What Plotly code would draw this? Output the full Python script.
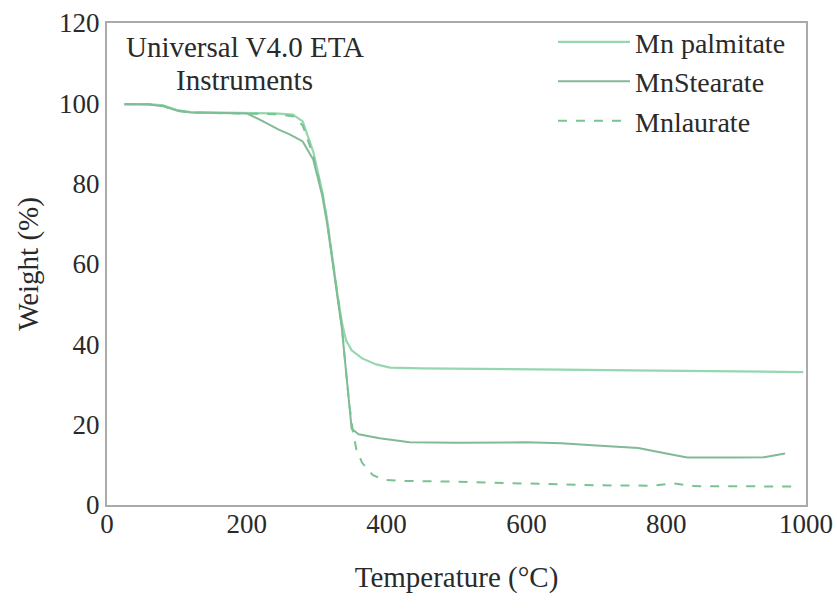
import plotly.graph_objects as go

# Mn palmitate
t_palm = [25, 60, 80, 100, 120, 160, 200, 240, 266, 280, 295, 308, 315, 322, 330, 336, 342, 350, 365, 385, 405, 450, 550, 650, 750, 850, 950, 996]
w_palm = [99.8, 99.8, 99.5, 98.3, 97.8, 97.7, 97.6, 97.5, 97.2, 95.5, 88, 78, 71, 62, 52, 45.5, 41, 38.5, 36.5, 35, 34.2, 34, 33.9, 33.7, 33.5, 33.3, 33.2, 33.1]

# MnStearate
t_stea = [25, 60, 80, 100, 120, 160, 200, 220, 245, 262, 280, 295, 308, 315, 322, 330, 336, 341, 346, 350, 360, 390, 433, 500, 600, 650, 700, 760, 800, 830, 900, 940, 970]
w_stea = [99.8, 99.7, 99.3, 98.2, 97.7, 97.6, 97.5, 95.8, 93.5, 92.2, 90.5, 86, 77, 70, 61, 51, 44, 35, 25, 19, 17.6, 16.6, 15.6, 15.5, 15.6, 15.4, 14.8, 14.2, 12.8, 11.8, 11.8, 11.9, 12.8]

# Mnlaurate
t_laur = [25, 60, 80, 100, 120, 160, 200, 240, 266, 280, 295, 308, 315, 322, 330, 336, 341, 346, 352, 357, 365, 380, 395, 420, 500, 600, 700, 780, 810, 840, 900, 990]
w_laur = [99.8, 99.8, 99.4, 98.1, 97.7, 97.6, 97.5, 97.3, 96.8, 94.5, 87, 77.5, 70.5, 61.5, 51.5, 44.5, 35, 26, 18, 13.7, 10.5, 7.5, 6.3, 6.0, 5.8, 5.4, 4.9, 4.8, 5.4, 4.7, 4.6, 4.6]

x_ticks = [0, 200, 400, 600, 800, 1000]
y_ticks = [0, 20, 40, 60, 80, 100, 120]

FONT = "Liberation Serif"
TXT = "#2a2a2a"

fig = go.Figure()
fig.add_trace(go.Scatter(x=t_palm, y=w_palm, mode="lines", name="Mn palmitate",
                         line=dict(color="rgb(150,215,175)", width=2.2)))
fig.add_trace(go.Scatter(x=t_stea, y=w_stea, mode="lines", name="MnStearate",
                         line=dict(color="rgb(130,185,150)", width=2)))
fig.add_trace(go.Scatter(x=t_laur, y=w_laur, mode="lines", name="Mnlaurate",
                         line=dict(color="rgb(120,195,145)", width=2, dash="dash")))

fig.add_annotation(text="Universal V4.0 ETA", xref="paper", yref="paper",
                   x=0.197, y=1 - (47 - 23) / 482, xanchor="center", yanchor="middle", showarrow=False,
                   font=dict(family=FONT, size=29, color=TXT))
fig.add_annotation(text="Instruments", xref="paper", yref="paper",
                   x=0.197, y=1 - (80 - 23) / 482, xanchor="center", yanchor="middle", showarrow=False,
                   font=dict(family=FONT, size=29, color=TXT))

fig.update_layout(
    width=837, height=609,
    margin=dict(l=107, r=31, t=23, b=104),
    paper_bgcolor="white", plot_bgcolor="white",
    font=dict(family=FONT, size=26, color=TXT),
    legend=dict(x=(553 - 107) / 699, y=1.012, xanchor="left", yanchor="top",
                bgcolor="rgba(0,0,0,0)", font=dict(family=FONT, size=28, color=TXT),
                itemwidth=72),
    showlegend=True,
)
fig.update_xaxes(range=[0, 1000], tickvals=x_ticks, ticks="", showgrid=False, zeroline=False,
                 showline=True, linecolor="#aaa", linewidth=2, mirror=True, automargin=False,
                 ticklabelstandoff=-6,
                 title=dict(text="Temperature (°C)", font=dict(family=FONT, size=29, color=TXT), standoff=28),
                 tickfont=dict(family=FONT, size=27, color=TXT))
fig.update_yaxes(range=[0, 120], tickvals=y_ticks, ticks="", showgrid=False, zeroline=False,
                 showline=True, linecolor="#aaa", linewidth=2, mirror=True, automargin=False,
                 title=dict(text="Weight (%)", font=dict(family=FONT, size=29, color=TXT), standoff=12),
                 tickfont=dict(family=FONT, size=27, color=TXT))

fig.write_html("out.html", config={"displayModeBar": False},
               post_script="document.body.style.margin='0';document.body.style.overflow='hidden';")
